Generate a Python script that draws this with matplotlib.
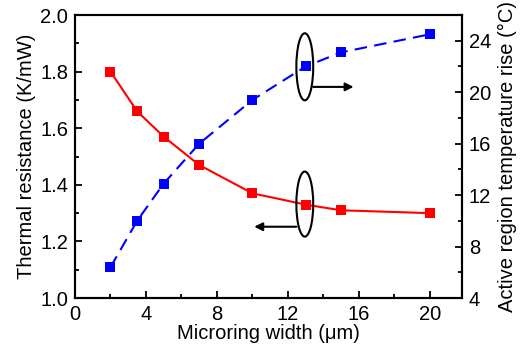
import matplotlib.pyplot as plt
from matplotlib.patches import Ellipse
from matplotlib.ticker import MultipleLocator

plt.rcParams['font.family'] = ['Liberation Sans', 'DejaVu Sans']

width = [2, 3.5, 5, 7, 10, 13, 15, 20]
resistance = [1.80, 1.66, 1.57, 1.47, 1.37, 1.33, 1.31, 1.30]
temp_rise = [6.4, 10.0, 12.9, 16.0, 19.4, 22.0, 23.1, 24.5]

fig = plt.figure(figsize=(5.22, 3.49), dpi=100)
ax = fig.add_axes([0.1437, 0.146, 0.741, 0.811])
ax2 = ax.twinx()

ax.plot(width, resistance, color='red', lw=1.5, marker='s', ms=6.5,
        markeredgewidth=0)
ax2.plot(width, temp_rise, color='blue', lw=1.5, ls=(0, (6, 3.5)), marker='s',
         ms=6.5, markeredgewidth=0)

ax.set_xlim(0, 21.8)
ax.set_ylim(1.0, 2.0)
ax2.set_ylim(4, 26)

ax.xaxis.set_major_locator(MultipleLocator(4))
ax.xaxis.set_minor_locator(MultipleLocator(2))
ax.yaxis.set_minor_locator(MultipleLocator(0.1))
ax2.yaxis.set_major_locator(MultipleLocator(4))
ax2.yaxis.set_minor_locator(MultipleLocator(2))
ax.set_yticks([1.0, 1.2, 1.4, 1.6, 1.8, 2.0])
ax.set_yticklabels(['1.0', '1.2', '1.4', '1.6', '1.8', '2.0'])

for a in (ax, ax2):
    a.tick_params(which='both', direction='in', labelsize=14.5, width=1.3,
                  pad=5)
    a.tick_params(which='major', length=5)
    a.tick_params(which='minor', length=3)
    for s in a.spines.values():
        s.set_linewidth(1.5)

ax.set_xlabel('Microring width (μm)', fontsize=14.5, labelpad=0)
ax.set_ylabel('Thermal resistance (K/mW)', fontsize=14.5, labelpad=3)
ax2.set_ylabel('Active region temperature rise (°C)', fontsize=14.5,
               labelpad=5)

# ellipses marking which curve belongs to which axis
ax.add_patch(Ellipse((12.95, 1.817), 0.95, 0.237, fill=False, ec='black',
                     lw=1.5, zorder=5))
ax.add_patch(Ellipse((12.95, 1.332), 0.95, 0.23, fill=False, ec='black',
                     lw=1.5, zorder=5))
ax.annotate('', xy=(15.7, 1.746), xytext=(13.42, 1.746),
            arrowprops=dict(arrowstyle='-|>', color='black', lw=1.5,
                            mutation_scale=12, shrinkA=0, shrinkB=0))
ax.annotate('', xy=(10.1, 1.252), xytext=(12.48, 1.252),
            arrowprops=dict(arrowstyle='-|>', color='black', lw=1.5,
                            mutation_scale=12, shrinkA=0, shrinkB=0))

fig.savefig('out.png', dpi=100)
